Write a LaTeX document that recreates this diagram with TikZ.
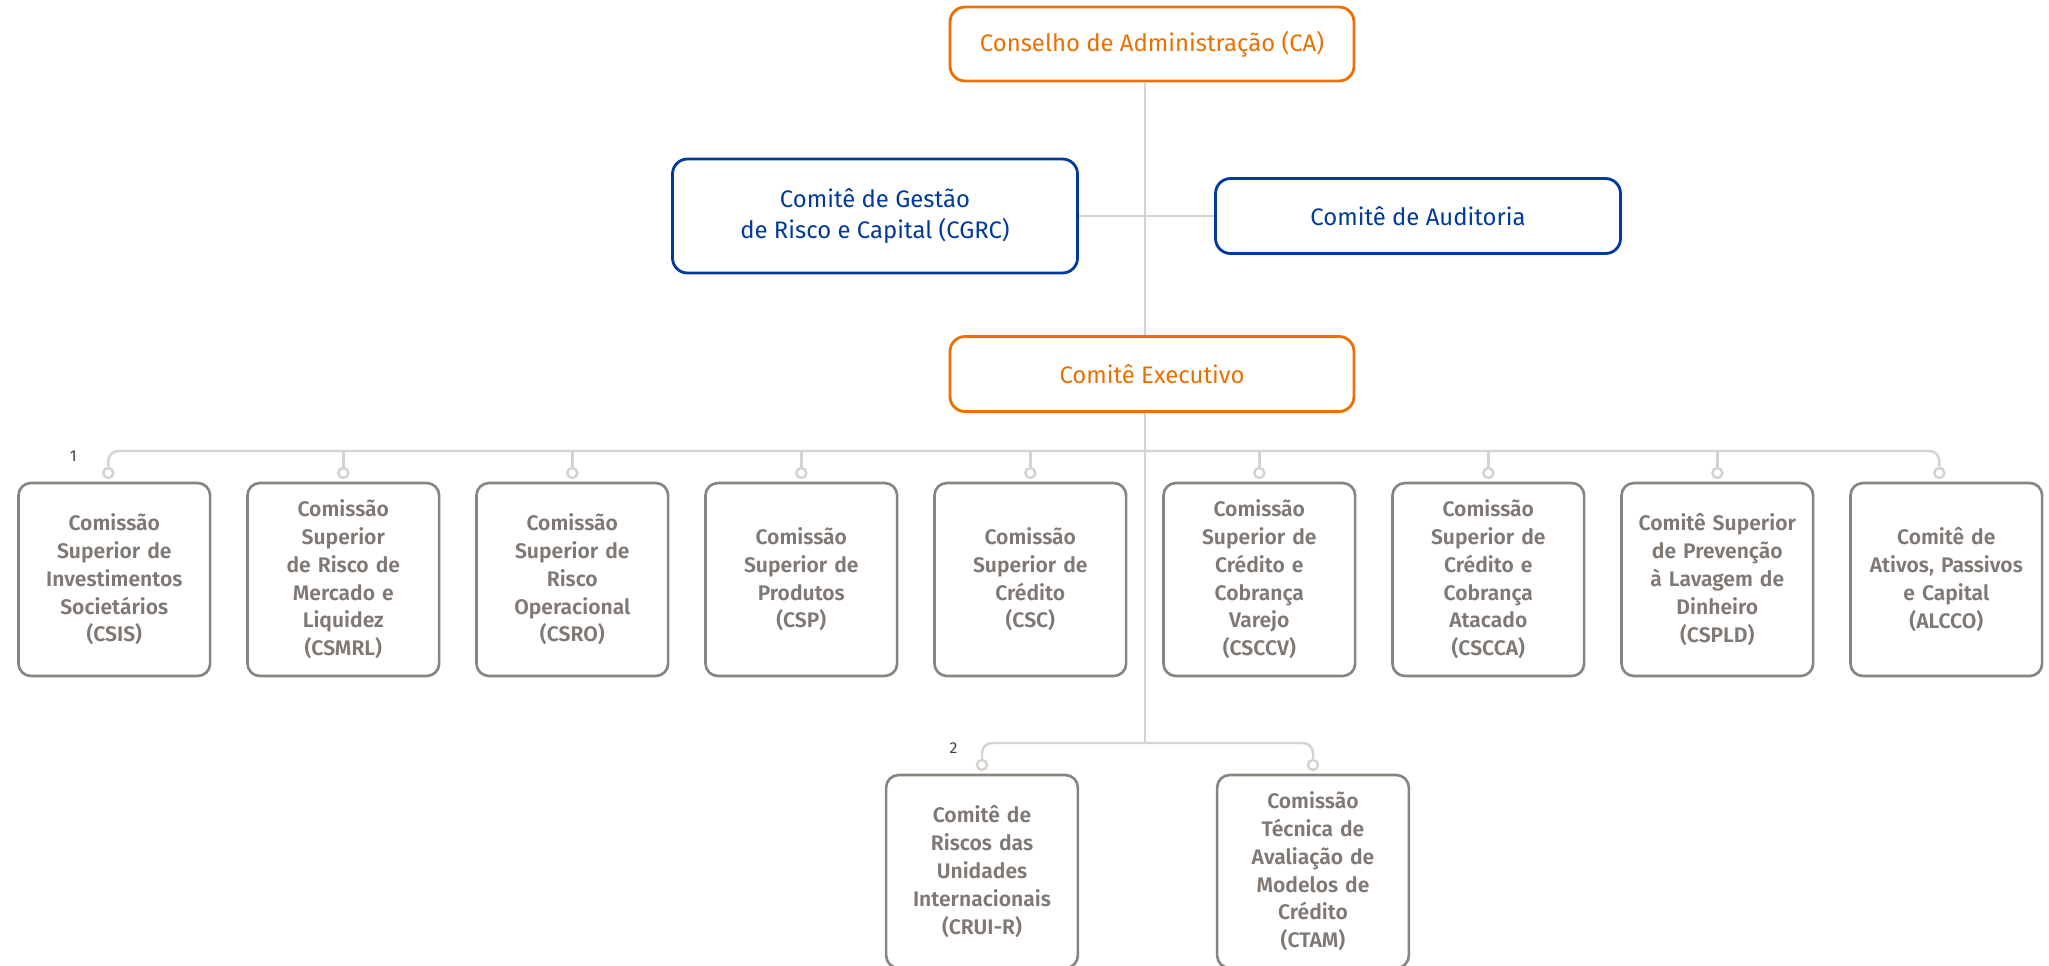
\documentclass[tikz,border=0pt]{standalone}
\usepackage{fontspec}
\setmainfont{Fira Sans}[BoldFont={Fira Sans SemiBold}]
\usetikzlibrary{positioning}
\definecolor{itauorange}{HTML}{EC7000}
\definecolor{itaublue}{HTML}{003A9B}
\definecolor{boxgray}{HTML}{8A847F}
\definecolor{textgray}{HTML}{7F7873}
\definecolor{linkgray}{HTML}{D7D2CD}
\tikzset{
	topbox/.style={draw=itauorange,line width=1.6pt,rounded corners=0.3cm,fill=white,
	minimum width=8.08cm,minimum height=1.48cm,align=center,text=itauorange,font=\fontsize{13.6}{18}\selectfont},
	riskbox/.style={topbox,draw=itaublue,text=itaublue,minimum width=8.1cm},
	combox/.style={draw=boxgray,line width=1.5pt,rounded corners=0.25cm,fill=white,
	minimum width=3.8cm,minimum height=3.86cm,align=center,text width=3.6cm,text=textgray,
	font=\bfseries\fontsize{12}{15.8}\selectfont},
	link/.style={draw=linkgray,line width=1.4pt},
	dot/.style={circle,draw=linkgray,line width=1.4pt,fill=white,inner sep=0pt,minimum size=0.2cm},
	tag/.style={text=black!75,font=\fontsize{9}{10}\selectfont}
}
\begin{document}
\begin{tikzpicture}
	\useasboundingbox (0,0) rectangle (40.98,-19.3);
	\node(ca) [topbox] at (23.04,-0.88) {Conselho de Administração (CA)};
	\node(cgrc) [riskbox,minimum height=2.28cm] at (17.5,-4.32) {Comitê de Gestão\\de Risco e Capital (CGRC)};
	\node(aud) [riskbox,minimum height=1.5cm] at (28.36,-4.32) {Comitê de Auditoria};
	\node(ce) [topbox,minimum height=1.5cm] at (23.04,-7.48) {Comitê Executivo};
	\coordinate (bus) at (22.9,-9.02);
	\coordinate (bus2) at (22.9,-14.86);
	% first row of commissions
	\node(r1) [combox] at (2.286,-11.59) {Comissão\\Superior de\\Investimentos\\Societários\\(CSIS)};
	\node(r2) [combox] at (6.866,-11.59) {Comissão\\Superior\\de Risco de\\Mercado e\\Liquidez\\(CSMRL)};
	\node(r3) [combox] at (11.446,-11.59) {Comissão\\Superior de\\Risco\\Operacional\\(CSRO)};
	\node(r4) [combox] at (16.026,-11.59) {Comissão\\Superior de\\Produtos\\(CSP)};
	\node(r5) [combox] at (20.606,-11.59) {Comissão\\Superior de\\Crédito\\(CSC)};
	\node(r6) [combox] at (25.186,-11.59) {Comissão\\Superior de\\Crédito e\\Cobrança\\Varejo\\(CSCCV)};
	\node(r7) [combox] at (29.766,-11.59) {Comissão\\Superior de\\Crédito e\\Cobrança\\Atacado\\(CSCCA)};
	\node(r8) [combox] at (34.346,-11.59) {Comitê Superior\\de Prevenção\\à Lavagem de\\Dinheiro\\(CSPLD)};
	\node(r9) [combox] at (38.926,-11.59) {Comitê de\\Ativos, Passivos\\e Capital\\(ALCCO)};
	% second row
	\node(r10) [combox] at (19.64,-17.43) {Comitê de\\Riscos das\\Unidades\\Internacionais\\(CRUI-R)};
	\node(r11) [combox] at (26.26,-17.43) {Comissão\\Técnica de\\Avaliação de\\Modelos de\\Crédito\\(CTAM)};
	\node(d1) [dot,above=0.05cm of r1,xshift=-0.12cm] {};
	\node(d2) [dot,above=0.05cm of r2] {};
	\node(d3) [dot,above=0.05cm of r3] {};
	\node(d4) [dot,above=0.05cm of r4] {};
	\node(d5) [dot,above=0.05cm of r5] {};
	\node(d6) [dot,above=0.05cm of r6] {};
	\node(d7) [dot,above=0.05cm of r7] {};
	\node(d8) [dot,above=0.05cm of r8] {};
	\node(d9) [dot,above=0.05cm of r9,xshift=-0.14cm] {};
	\node(d10) [dot,above=0.05cm of r10] {};
	\node(d11) [dot,above=0.05cm of r11] {};
	\node(n1) [tag,above left=0.02cm and 0.42cm of d1] {1};
	\node(n2) [tag,above left=0.02cm and 0.28cm of d10] {2};
	% connectors
	\draw [link] (ca.south -| bus) -- (ce.north -| bus);
	\draw [link] (cgrc) -- (aud);
	\draw [link] (ce.south -| bus) -- (bus2);
	\draw [link,rounded corners=0.2cm] (d1) |- (bus) -| (d9);
	\draw [link] (bus -| d2) -- (d2);
	\draw [link] (bus -| d3) -- (d3);
	\draw [link] (bus -| d4) -- (d4);
	\draw [link] (bus -| d5) -- (d5);
	\draw [link] (bus -| d6) -- (d6);
	\draw [link] (bus -| d7) -- (d7);
	\draw [link] (bus -| d8) -- (d8);
	\draw [link,rounded corners=0.2cm] (d10) |- (bus2) -| (d11);
\end{tikzpicture}
\end{document}
